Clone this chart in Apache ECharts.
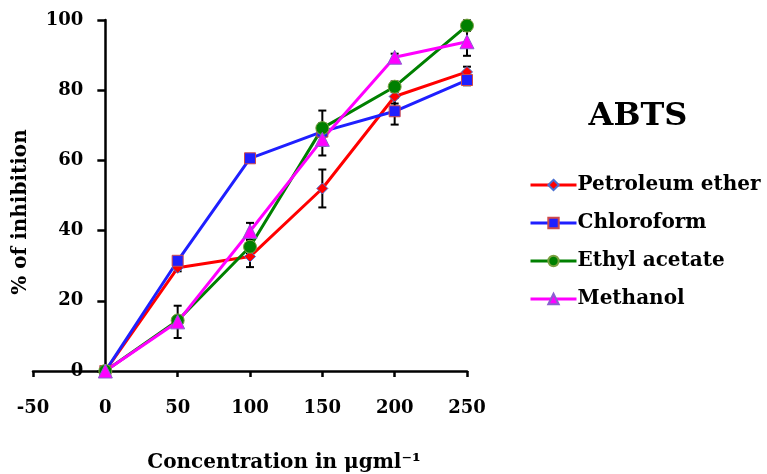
<!DOCTYPE html>
<html>
<head>
<meta charset="utf-8">
<script src="https://cdn.jsdelivr.net/npm/echarts@6/dist/echarts.min.js"></script>
<style>
  html, body { margin: 0; padding: 0; background: #fff; }
  #chart { width: 767px; height: 474px; }
</style>
</head>
<body>
<div id="chart"></div>
<script>
const concentrations = [0, 50, 100, 150, 200, 250]

const petroleumEther = [0, 29.4, 32.6, 52, 78.2, 85.2]
const chloroform = [0, 31.4, 60.6, 68.2, 74, 82.9]
const ethylAcetate = [0, 14.4, 35.4, 69.2, 81, 98.4]
const methanol = [0, 14, 39.8, 66, 89.4, 93.8]

const petroleumErr = [0, 1, 3, 5.4, 2, 1.5]
const chloroformErr = [0, 1, 1, 1.5, 3.8, 1.5]
const ethylErr = [0, 1, 2, 5, 1.5, 1.5]
const methanolErr = [0, 4.6, 2.4, 4.6, 1, 4]

const seriesNames = ['Petroleum ether', 'Chloroform', 'Ethyl acetate', 'Methanol']
const seriesColors = ['#ff0000', '#1f1fff', '#008000', '#ff00ff']
const seriesSymbols = ['diamond', 'rect', 'circle', 'triangle']
const seriesBorders = ['#4a6fd0', '#d04a4a', '#7aa040', '#8a5fd0']

const font = 'DejaVu Serif'

const chart = echarts.init(document.getElementById('chart'))

function pairs(values) {
  return concentrations.map((x, i) => [x, values[i]])
}

function errItems(values, errs) {
  return concentrations.map((x, i) => [x, values[i], errs[i]])
}

function renderErr(params, api) {
  const x = api.value(0)
  const y = api.value(1)
  const e = api.value(2)
  if (!e)
    return
  const hi = api.coord([x, y + e])
  const lo = api.coord([x, y - e])
  const w = 4
  const style = { stroke: '#000', lineWidth: 2 }
  return {
    type: 'group',
    children: [
      { type: 'line', shape: { x1: hi[0], y1: hi[1], x2: lo[0], y2: lo[1] }, style },
      { type: 'line', shape: { x1: hi[0] - w, y1: hi[1], x2: hi[0] + w, y2: hi[1] }, style },
      { type: 'line', shape: { x1: lo[0] - w, y1: lo[1], x2: lo[0] + w, y2: lo[1] }, style },
    ],
  }
}

const lineValues = [petroleumEther, chloroform, ethylAcetate, methanol]
const errValues = [petroleumErr, chloroformErr, ethylErr, methanolErr]

const series = []
lineValues.forEach((vals, i) => {
  series.push({
    type: 'custom',
    name: seriesNames[i] + ' err',
    renderItem: renderErr,
    encode: { x: 0, y: 1 },
    data: errItems(vals, errValues[i]),
    z: 1,
  })
})
lineValues.forEach((vals, i) => {
  series.push({
    type: 'line',
    name: seriesNames[i],
    data: pairs(vals),
    symbol: seriesSymbols[i],
    symbolSize: seriesSymbols[i] === 'circle' ? 13 : (seriesSymbols[i] === 'triangle' ? 14 : 11),
    showAllSymbol: true,
    lineStyle: { color: seriesColors[i], width: 3 },
    itemStyle: { color: seriesColors[i], borderColor: seriesBorders[i], borderWidth: 1 },
    z: 3,
  })
})

// y axis sits at x = 0: one 50-step of the 300-wide x range inside a 434px grid
const gridLeft = 33
const gridWidth = 434
const yAxisOffset = -gridWidth * 50 / 300

chart.setOption({
  animation: false,
  backgroundColor: '#fff',
  title: [
    {
      text: 'ABTS',
      left: 633,
      top: 96,
      textAlign: 'center',
      textStyle: { fontFamily: font, fontWeight: 'bold', fontSize: 32, color: '#000' },
    },
    {
      text: 'Concentration in μgml⁻¹',
      left: 279,
      top: 448,
      textAlign: 'center',
      textStyle: { fontFamily: font, fontWeight: 'bold', fontSize: 20, color: '#000' },
    },
  ],
  graphic: [
    {
      type: 'text',
      x: 21,
      y: 212,
      rotation: Math.PI / 2,
      style: {
        text: '% of inhibition',
        align: 'center',
        verticalAlign: 'middle',
        fontFamily: font,
        fontWeight: 'bold',
        fontSize: 20,
        fill: '#000',
      },
    },
  ],
  legend: {
    data: seriesNames,
    orient: 'vertical',
    left: 524,
    top: 170,
    itemWidth: 46,
    itemHeight: 13,
    itemGap: 18,
    lineStyle: { width: 3 },
    textStyle: { fontFamily: font, fontWeight: 'bold', fontSize: 20, color: '#000', padding: [0, 0, 0, -4] },
  },
  grid: { left: gridLeft, width: gridWidth, top: 20, bottom: 103, outerBoundsMode: 'none', containLabel: false },
  xAxis: {
    type: 'value',
    min: -50,
    max: 250,
    interval: 50,
    axisLine: { onZero: true, lineStyle: { color: '#000', width: 2.5 } },
    axisTick: { show: true, inside: false, length: 6, lineStyle: { color: '#000', width: 2.5 } },
    axisLabel: { margin: 28, fontFamily: font, fontWeight: 'bold', fontSize: 18, color: '#000' },
    splitLine: { show: false },
  },
  yAxis: {
    type: 'value',
    min: 0,
    max: 100,
    interval: 20,
    position: 'left',
    offset: yAxisOffset,
    axisLine: { show: true, onZero: false, lineStyle: { color: '#000', width: 2.5 } },
    axisTick: { show: true, inside: false, length: 8, lineStyle: { color: '#000', width: 2.5 } },
    axisLabel: { margin: 22, fontFamily: font, fontWeight: 'bold', fontSize: 18, color: '#000' },
    splitLine: { show: false },
  },
  series,
})
</script>
</body>
</html>
